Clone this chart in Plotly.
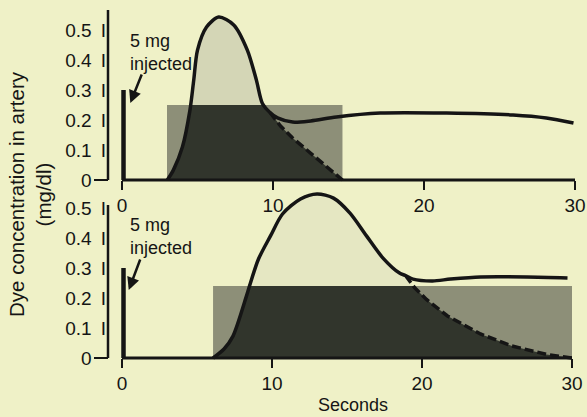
import plotly.graph_objects as go

W, H = 587, 417
BG = "#EFF1C7"
FONT = "Liberation Sans, Arial, sans-serif"
INK = "#151515"

# ---------------- data ----------------
# Top panel (normal cardiac output)
top_curve_t = [3.0, 3.4, 4.0, 4.5, 4.75, 5.0, 5.6, 6.4, 7.4, 8.3, 8.9, 9.3, 9.8, 10.3, 11.3, 12.5, 14.2, 17.1, 21.5, 25.9, 28.1, 29.9]
top_curve_v = [0.0, 0.033, 0.11, 0.233, 0.333, 0.433, 0.51, 0.543, 0.517, 0.433, 0.333, 0.255, 0.225, 0.207, 0.193, 0.197, 0.21, 0.223, 0.223, 0.217, 0.207, 0.19]
top_dash_t = [9.8, 10.5, 11.3, 12.5, 13.8, 14.6]
top_dash_v = [0.225, 0.18, 0.14, 0.09, 0.035, 0.0]
top_rect_start, top_rect_end, top_rect_height = 2.98, 14.6, 0.25

# Bottom panel (low cardiac output)
bot_curve_t = [6.07, 6.8, 7.4, 8.3, 8.5, 9.1, 9.9, 10.7, 11.9, 13.0, 14.1, 15.2, 16.3, 17.4, 18.5, 18.9, 19.4, 20.7, 21.9, 23.9, 27.0, 29.7]
bot_curve_v = [0.0, 0.03, 0.073, 0.207, 0.24, 0.33, 0.407, 0.48, 0.53, 0.547, 0.533, 0.483, 0.407, 0.333, 0.283, 0.275, 0.263, 0.257, 0.263, 0.27, 0.27, 0.267]
bot_dash_t = [18.9, 19.5, 20.3, 21.7, 23.9, 26.0, 28.3, 30.0]
bot_dash_v = [0.275, 0.235, 0.195, 0.14, 0.08, 0.04, 0.012, 0.0]
bot_rect_start, bot_rect_end, bot_rect_height = 6.07, 30.0, 0.24

injection_time = 0.1
injection_height = 0.3
injection_text = "5 mg<br>injected"

x_tick_vals = [0, 10, 20, 30]
x_tick_text = ["0", "10", "20", "30"]
y_tick_vals = [0, 0.1, 0.2, 0.3, 0.4, 0.5]
y_tick_text = ["0\u00a0\u00a0\u2009", "0.1 \u2009I", "0.2 \u2009I", "0.3 \u2009I", "0.4 \u2009I", "0.5 \u2009I"]
y_title = "Dye concentration in artery<br>(mg/dl)"
x_title = "Seconds"

# ---------------- layout helpers (pixel -> paper) ----------------
def pxx(p):
    return p / W

def pxy(p):
    return (H - p) / H

TOP = dict(zero=180, vs=300.0, x0=122, xs=15.1, ytop=5, ybot=200, yline=10, txt=52)
BOT = dict(zero=358, vs=300.0, x0=122, xs=15.0, ytop=185, ybot=375, yline=205, txt=236)
XL, XR, YAX = 85, 587, 108


def first_pass(ct, cv, dt, dv):
    ts, vs = [], []
    for t, v in zip(ct, cv):
        if t <= dt[0]:
            ts.append(t); vs.append(v)
    for t, v in zip(dt, dv):
        if t > ts[-1]:
            ts.append(t); vs.append(v)
    return ts, vs


def cap_poly(ts, vs, cap):
    ot, ov = [], []
    for i in range(len(ts)):
        if i > 0:
            t0, v0, t1, v1 = ts[i - 1], vs[i - 1], ts[i], vs[i]
            if (v0 - cap) * (v1 - cap) < 0:
                f = (cap - v0) / (v1 - v0)
                ot.append(t0 + f * (t1 - t0)); ov.append(cap)
        ot.append(ts[i]); ov.append(min(vs[i], cap))
    return ot, ov


fig = go.Figure()


def panel(xa, ya, g, ct, cv, dt, dv, r0, r1, rh, light):
    xr, yr = xa.replace("axis", ""), ya.replace("axis", "")
    ft, fv = first_pass(ct, cv, dt, dv)
    fig.add_trace(go.Scatter(x=ft + [ft[0]], y=fv + [0], fill="toself", fillcolor=light,
                             line=dict(width=0), mode="lines", xaxis=xr, yaxis=yr, hoverinfo="skip"))
    fig.add_trace(go.Scatter(x=[r0, r0, r1, r1, r0], y=[0, rh, rh, 0, 0], fill="toself",
                             fillcolor="#8D8F78", line=dict(width=0), mode="lines",
                             xaxis=xr, yaxis=yr, hoverinfo="skip"))
    kt, kv = cap_poly(ft, fv, rh)
    fig.add_trace(go.Scatter(x=kt + [kt[0]], y=kv + [0], fill="toself", fillcolor="#31352C",
                             line=dict(width=0), mode="lines", xaxis=xr, yaxis=yr, hoverinfo="skip"))
    fig.add_trace(go.Scatter(x=dt, y=dv, mode="lines", line=dict(color=INK, width=3.5, dash="9px,4px"),
                             xaxis=xr, yaxis=yr, hoverinfo="skip"))
    fig.add_trace(go.Scatter(x=[x_tick_vals[0], x_tick_vals[-1]], y=[0, 0], mode="lines",
                             line=dict(color=INK, width=3), xaxis=xr, yaxis=yr, hoverinfo="skip"))
    fig.add_trace(go.Scatter(x=ct, y=cv, mode="lines", line=dict(color=INK, width=3.5, shape="spline", smoothing=0.8),
                             xaxis=xr, yaxis=yr, hoverinfo="skip"))
    fig.add_trace(go.Scatter(x=[injection_time, injection_time], y=[0, injection_height], mode="lines",
                             line=dict(color=INK, width=4.5), xaxis=xr, yaxis=yr, hoverinfo="skip"))
    tax = (YAX - g["x0"]) / g["xs"]
    tz = (YAX - 14 - g["x0"]) / g["xs"]
    ytopv = (g["zero"] - g["yline"]) / g["vs"]
    fig.add_trace(go.Scatter(x=[tax, tax], y=[0, ytopv], mode="lines", line=dict(color=INK, width=2.5),
                             xaxis=xr, yaxis=yr, hoverinfo="skip"))
    fig.add_trace(go.Scatter(x=[tz, tax], y=[0, 0], mode="lines", line=dict(color=INK, width=2),
                             xaxis=xr, yaxis=yr, hoverinfo="skip"))

    fig.update_layout(**{
        xa: dict(domain=[pxx(XL), pxx(XR)],
                 range=[(XL - g["x0"]) / g["xs"], (XR - g["x0"]) / g["xs"]],
                 anchor="free", position=pxy(g["zero"]), showline=False, showgrid=False, zeroline=False,
                 tickvals=x_tick_vals, ticktext=x_tick_text, ticks="outside", ticklen=9, tickwidth=2,
                 tickcolor=INK, tickfont=dict(family=FONT, size=19, color=INK), ticklabelstandoff=-1),
        ya: dict(domain=[pxy(g["ybot"]), pxy(g["ytop"])],
                 range=[-(g["ybot"] - g["zero"]) / g["vs"], (g["zero"] - g["ytop"]) / g["vs"]],
                 anchor="free", position=pxx(YAX), showline=False, showgrid=False, zeroline=False,
                 tickvals=y_tick_vals, ticktext=y_tick_text, ticks="",
                 tickfont=dict(family=FONT, size=19, color=INK), ticklabelstandoff=2),
    })
    fig.add_annotation(x=(128 - g["x0"]) / g["xs"], y=(g["zero"] - g["txt"]) / g["vs"],
                       xref=xr, yref=yr, text=injection_text, showarrow=False, xanchor="left",
                       yanchor="middle", align="left", font=dict(family=FONT, size=18, color=INK))


panel("xaxis", "yaxis", TOP, top_curve_t, top_curve_v, top_dash_t, top_dash_v,
      top_rect_start, top_rect_end, top_rect_height, "#D4D6B6")
panel("xaxis2", "yaxis2", BOT, bot_curve_t, bot_curve_v, bot_dash_t, bot_dash_v,
      bot_rect_start, bot_rect_end, bot_rect_height, "#E5E7C2")

fig.add_annotation(x=0.55, y=(180 - 103) / 300, xref="x", yref="y", text="", showarrow=True,
                   ax=12, ay=-30, arrowhead=2, arrowsize=1, arrowwidth=2.5, arrowcolor=INK)
fig.add_annotation(x=0.45, y=(358 - 290) / 300, xref="x2", yref="y2", text="", showarrow=True,
                   ax=12, ay=-32, arrowhead=2, arrowsize=1, arrowwidth=2.5, arrowcolor=INK)

fig.add_annotation(x=pxx(30), y=pxy(194), xref="paper", yref="paper", text=y_title, textangle=-90,
                   xanchor="center", yanchor="middle",
                   showarrow=False, font=dict(family=FONT, size=20.5, color=INK))
fig.add_annotation(x=15.4, y=pxy(405), xref="x2", yref="paper", text=x_title, showarrow=False,
                   xanchor="center", yanchor="middle", font=dict(family=FONT, size=18, color=INK))

fig.update_layout(width=W, height=H, margin=dict(l=0, r=0, t=0, b=0), showlegend=False,
                  paper_bgcolor=BG, plot_bgcolor="rgba(0,0,0,0)")

fig.write_html("out.html", config={"displayModeBar": False},
               post_script="document.body.style.margin='0px';document.body.style.overflow='hidden';document.body.style.background='" + BG + "';")
